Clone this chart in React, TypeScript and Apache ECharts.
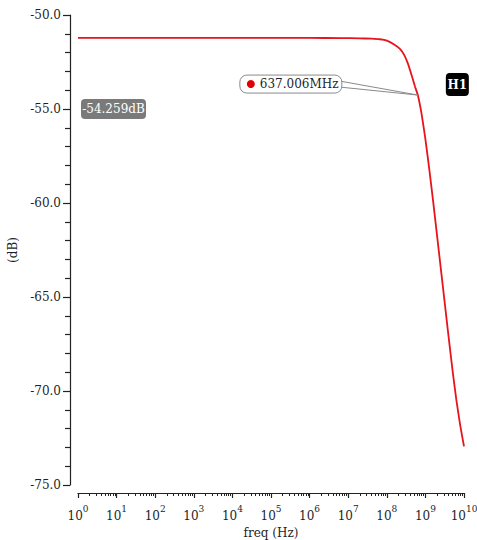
import React, { useEffect, useRef } from "react";
import * as echarts from "echarts";

// frequency as log10(Hz)
const freqLog10 = [0, 2, 4, 6, 6.8, 7.3, 7.6, 7.82, 8.0, 8.2, 8.34, 8.45, 8.55, 8.65, 8.73, 8.804, 8.9, 9.0, 9.1, 9.2, 9.3, 9.4, 9.5, 9.6, 9.7, 9.8, 9.9, 10];
const gainDb = [-51.22, -51.22, -51.22, -51.22, -51.23, -51.24, -51.26, -51.29, -51.36, -51.58, -51.8, -52.12, -52.6, -53.25, -53.8, -54.259, -55.25, -56.6, -58.2, -59.9, -61.7, -63.5, -65.3, -67.1, -68.85, -70.45, -71.8, -72.95];

const markerFreqLog10 = Math.log10(637.006e6);
const markerDb = -54.259;
const markerFreqLabel = "637.006MHz";
const markerDbLabel = "-54.259dB";
const markerName = "H1";

const xMinorMultipliers = [2, 3, 4, 5, 6, 7, 8, 9];

const FONT = "DejaVu Serif";
const TEXT = "#1c1f2b";

export default function App() {
  const ref = useRef<HTMLDivElement>(null);
  useEffect(() => {
    const chart = echarts.init(ref.current!, null, { renderer: "svg" });
    const minorValues: number[] = [];
    for (let d = 0; d < 10; d++) {
      for (const m of xMinorMultipliers) minorValues.push(d + Math.log10(m));
    }
    chart.setOption({
      animation: false,
      backgroundColor: "#fff",
      grid: { left: 78, right: 13, top: 15, bottom: 55, containLabel: false, outerBoundsMode: "none" },
      xAxis: [
        {
          type: "value",
          min: 0,
          max: 10,
          interval: 1,
          position: "bottom",
          offset: 8,
          name: "freq (Hz)",
          nameLocation: "middle",
          nameGap: 30,
          nameTextStyle: { fontFamily: FONT, fontSize: 12, color: TEXT },
          axisLine: { show: true, onZero: false, lineStyle: { color: "#222", width: 1.2 } },
          axisTick: { show: true, inside: false, length: 5, lineStyle: { color: "#222", width: 1.2 } },
          axisLabel: {
            margin: 11,
            formatter: (v: number) => `{b|10}{s|${Math.round(v)}}`,
            rich: {
              b: { fontFamily: FONT, fontSize: 12, color: TEXT, lineHeight: 24 },
              s: { fontFamily: FONT, fontSize: 9, color: TEXT, lineHeight: 10, verticalAlign: "top" },
            },
          },
          splitLine: { show: false },
        },
        {
          type: "value",
          min: 0,
          max: 10,
          interval: 1,
          position: "bottom",
          offset: 8,
          axisLine: { show: false, onZero: false },
          axisTick: { show: true, inside: false, length: 3, lineStyle: { color: "#222", width: 1 }, customValues: minorValues },
          axisLabel: { show: false },
          splitLine: { show: false },
        },
      ],
      yAxis: {
        type: "value",
        min: -75,
        max: -50,
        interval: 5,
        offset: 8,
        name: "(dB)",
        nameLocation: "middle",
        nameGap: 46,
        nameTextStyle: { fontFamily: FONT, fontSize: 12, color: TEXT },
        axisLine: { show: true, onZero: false, lineStyle: { color: "#222", width: 1.2 } },
        axisTick: { show: true, inside: false, length: 7, lineStyle: { color: "#222", width: 1.2 } },
        minorTick: { show: true, splitNumber: 5, length: 5, lineStyle: { color: "#222", width: 1.2 } },
        axisLabel: {
          margin: 9,
          fontFamily: FONT,
          fontSize: 12,
          color: TEXT,
          formatter: (v: number) => v.toFixed(1),
        },
        splitLine: { show: false },
        minorSplitLine: { show: false },
      },
      series: [
        {
          type: "line",
          xAxisIndex: 0,
          data: freqLog10.map((x, i) => [x, gainDb[i]]),
          showSymbol: false,
          smooth: 0.15,
          lineStyle: { color: "#e8141c", width: 1.8 },
          itemStyle: { color: "#e8141c" },
        },
      ],
    });

    const p = chart.convertToPixel({ xAxisIndex: 0, yAxisIndex: 0 }, [markerFreqLog10, markerDb]) as number[];
    const px = p[0];
    const py = p[1];
    const boxX = px - 178;
    const boxY = py - 20;
    chart.setOption({
      graphic: [
        {
          type: "polygon",
          z: 100,
          shape: { points: [[boxX + 100, boxY + 6], [px, py], [boxX + 100, boxY + 12]] },
          style: { fill: "#fff", stroke: "#8a8a8a", lineWidth: 1 },
        },
        {
          type: "rect",
          z: 101,
          shape: { x: boxX, y: boxY, width: 102, height: 18, r: 7 },
          style: { fill: "#fff", stroke: "#8a8a8a", lineWidth: 1 },
        },
        {
          type: "circle",
          z: 102,
          shape: { cx: boxX + 11, cy: boxY + 9, r: 4 },
          style: { fill: "#e00000" },
        },
        {
          type: "text",
          z: 102,
          x: boxX + 20,
          y: boxY + 9,
          style: { text: markerFreqLabel, fontFamily: FONT, fontSize: 12, fill: TEXT, verticalAlign: "middle", align: "left" },
        },
        {
          type: "rect",
          z: 101,
          shape: { x: px + 28, y: py - 22, width: 23, height: 23, r: 4 },
          style: { fill: "#000" },
        },
        {
          type: "text",
          z: 102,
          x: px + 39.5,
          y: py - 10.5,
          style: { text: markerName, fontFamily: FONT, fontSize: 12, fontWeight: "bold", fill: "#fff", verticalAlign: "middle", align: "center" },
        },
        {
          type: "rect",
          z: 101,
          shape: { x: 81, y: py + 4, width: 65, height: 20, r: 4 },
          style: { fill: "#7a7a7a" },
        },
        {
          type: "text",
          z: 102,
          x: 113.5,
          y: py + 14,
          style: { text: markerDbLabel, fontFamily: FONT, fontSize: 12, fill: "#fff", verticalAlign: "middle", align: "center" },
        },
      ],
    });
    return () => chart.dispose();
  }, []);
  return <div ref={ref} style={{ position: "fixed", left: 0, top: 0, width: 477, height: 540 }} />;
}
